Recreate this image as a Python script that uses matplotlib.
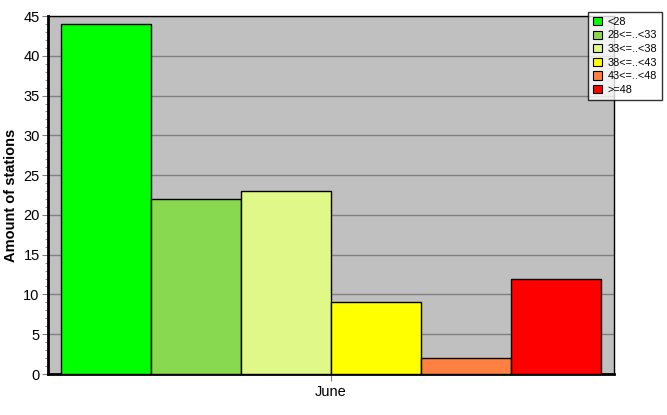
import matplotlib
matplotlib.use("Agg")
import matplotlib.pyplot as plt
import numpy as np
from matplotlib.patches import Patch

categories = ["<28", "28<=..<33", "33<=..<38", "38<=..<43", "43<=..<48", ">=48"]
values = [44, 22, 23, 9, 2, 12]
colors = ["#00FF00", "#88D850", "#E0F888", "#FFFF00", "#FF8040", "#FF0000"]
month = "June"

plt.rcParams['font.family'] = ['Liberation Sans', 'DejaVu Sans']

fig = plt.figure(figsize=(6.67, 4.15), dpi=100)
ax = fig.add_axes([48/667, 41/415, 566/667, 358/415])
ax.set_facecolor("#C0C0C0")

n = len(values)
offsets = np.arange(n) - (n - 1) / 2
for off, v, c in zip(offsets, values, colors):
    ax.bar(off, v, width=1.0, color=c, edgecolor="black", linewidth=1.0, zorder=3)

ax.set_xlim(-3 - 13/90, 3 + 13/90)
ax.set_ylim(0, 45)
ax.set_yticks(np.arange(0, 46, 5))
ax.set_yticks(np.arange(0, 46, 1), minor=True)
ax.set_xticks([0])
ax.set_xticklabels([month])
ax.yaxis.grid(True, color="#808080", linewidth=1.0, zorder=1)
ax.set_axisbelow(True)

for s in ["top", "right"]:
    ax.spines[s].set_linewidth(1.0)
for s in ["left", "bottom"]:
    ax.spines[s].set_linewidth(2.0)
ax.tick_params(axis='y', which='major', length=4, color="#808080", labelsize=10.5, pad=2)
ax.tick_params(axis='y', which='minor', length=2, color="#808080")
ax.tick_params(axis='x', length=5, color="#808080", labelsize=10.5, pad=3)

ax.set_ylabel("Amount of stations", fontsize=10.5, fontweight="bold")
ax.yaxis.set_label_coords(-30/566, 0.5)

handles = [Patch(facecolor=c, edgecolor="black", linewidth=0.8) for c in colors]
leg = fig.legend(handles, categories, loc="upper left", bbox_to_anchor=(588/667, 1 - 12/415),
                 fontsize=7.8, frameon=True, fancybox=False, edgecolor="black",
                 handlelength=0.8, handleheight=0.8, handletextpad=0.55,
                 labelspacing=0.33, borderpad=0.45, borderaxespad=0)
leg.get_frame().set_linewidth(1.0)

fig.savefig("out.png", dpi=100)
